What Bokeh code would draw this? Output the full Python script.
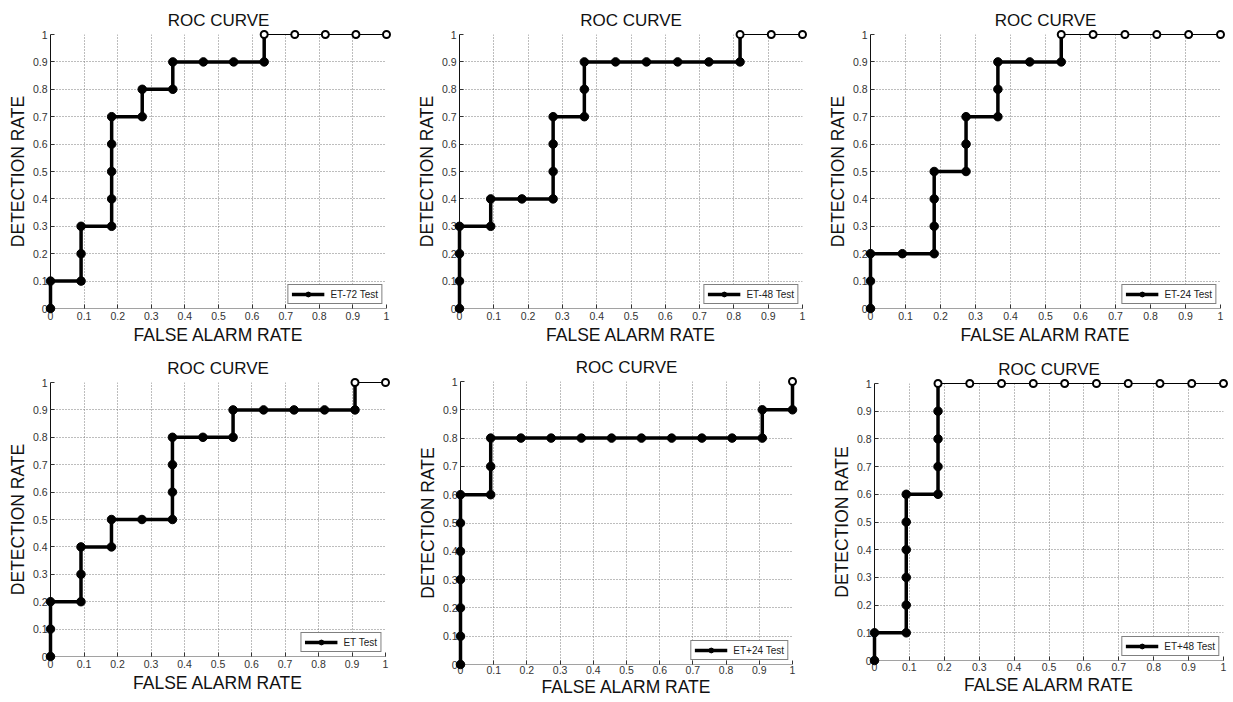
from bokeh.plotting import figure
from bokeh.layouts import column, row
from bokeh.models import FixedTicker, CustomJSTickFormatter
from bokeh.embed import file_html
from bokeh.resources import INLINE

TITLE = "ROC CURVE"
X_LABEL = "FALSE ALARM RATE"
Y_LABEL = "DETECTION RATE"
TICKS = [0, 0.1, 0.2, 0.3, 0.4, 0.5, 0.6, 0.7, 0.8, 0.9, 1]

# False alarm rate (x) and detection rate (y) for each test
far_et72 = [0, 0, 0.091, 0.091, 0.091, 0.182, 0.182, 0.182, 0.182, 0.182, 0.273,
            0.273, 0.364, 0.364, 0.455, 0.545, 0.636, 0.636, 0.727, 0.818, 0.909, 1]
det_et72 = [0, 0.1, 0.1, 0.2, 0.3, 0.3, 0.4, 0.5, 0.6, 0.7, 0.7,
            0.8, 0.8, 0.9, 0.9, 0.9, 0.9, 1, 1, 1, 1, 1]

far_et48 = [0, 0, 0, 0, 0.091, 0.091, 0.182, 0.273, 0.273, 0.273, 0.273,
            0.364, 0.364, 0.364, 0.455, 0.545, 0.636, 0.727, 0.818, 0.818, 0.909, 1]
det_et48 = [0, 0.1, 0.2, 0.3, 0.3, 0.4, 0.4, 0.4, 0.5, 0.6, 0.7,
            0.7, 0.8, 0.9, 0.9, 0.9, 0.9, 0.9, 0.9, 1, 1, 1]

far_et24 = [0, 0, 0, 0.091, 0.182, 0.182, 0.182, 0.182, 0.273, 0.273, 0.273,
            0.364, 0.364, 0.364, 0.455, 0.545, 0.545, 0.636, 0.727, 0.818, 0.909, 1]
det_et24 = [0, 0.1, 0.2, 0.2, 0.2, 0.3, 0.4, 0.5, 0.5, 0.6, 0.7,
            0.7, 0.8, 0.9, 0.9, 0.9, 1, 1, 1, 1, 1, 1]

far_et = [0, 0, 0, 0.091, 0.091, 0.091, 0.182, 0.182, 0.273, 0.364, 0.364,
          0.364, 0.364, 0.455, 0.545, 0.545, 0.636, 0.727, 0.818, 0.909, 0.909, 1]
det_et = [0, 0.1, 0.2, 0.2, 0.3, 0.4, 0.4, 0.5, 0.5, 0.5, 0.6,
          0.7, 0.8, 0.8, 0.8, 0.9, 0.9, 0.9, 0.9, 0.9, 1, 1]

far_etp24 = [0, 0, 0, 0, 0, 0, 0, 0.091, 0.091, 0.091, 0.182,
             0.273, 0.364, 0.455, 0.545, 0.636, 0.727, 0.818, 0.909, 0.909, 1, 1]
det_etp24 = [0, 0.1, 0.2, 0.3, 0.4, 0.5, 0.6, 0.6, 0.7, 0.8, 0.8,
             0.8, 0.8, 0.8, 0.8, 0.8, 0.8, 0.8, 0.8, 0.9, 0.9, 1]

far_etp48 = [0, 0, 0.091, 0.091, 0.091, 0.091, 0.091, 0.091, 0.182, 0.182, 0.182,
             0.182, 0.182, 0.273, 0.364, 0.455, 0.545, 0.636, 0.727, 0.818, 0.909, 1]
det_etp48 = [0, 0.1, 0.1, 0.2, 0.3, 0.4, 0.5, 0.6, 0.6, 0.7, 0.8,
             0.9, 1, 1, 1, 1, 1, 1, 1, 1, 1, 1]

SERIES = [
    ("ET-72 Test", far_et72, det_et72),
    ("ET-48 Test", far_et48, det_et48),
    ("ET-24 Test", far_et24, det_et24),
    ("ET Test", far_et, det_et),
    ("ET+24 Test", far_etp24, det_etp24),
    ("ET+48 Test", far_etp48, det_etp48),
]

# layout: (width, height, border_left, border_right, border_top, border_bottom,
#          x tick-label standoff, x axis-label standoff)
LAYOUT = [
    (410, 351, 50, 24, 34, 43, 3, 2),
    (410, 351, 49, 18, 34, 43, 3, 2),
    (412, 351, 50, 12, 34, 43, 3, 2),
    (410, 350, 50, 25, 31, 45, 3, 2),
    (410, 350, 50, 28, 29, 37, 1, 0),
    (412, 350, 54, 9, 32, 41, 2, 1),
]

FONT = "Liberation Sans"


def make_plot(name, xs, ys, lay):
    w, h, bl, br, bt, bb, xls, xas = lay
    p = figure(width=w, height=h, x_range=(0, 1), y_range=(0, 1),
               output_backend="svg", toolbar_location=None,
               min_border_left=bl, min_border_right=br,
               min_border_top=bt, min_border_bottom=bb)
    p.title.text = TITLE
    p.title.align = "center"
    p.title.text_font = FONT
    p.title.text_font_size = "17px"
    p.title.text_font_style = "normal"
    p.title.text_color = "#111111"
    p.title.standoff = 9
    p.outline_line_color = None
    p.background_fill_color = "white"
    p.border_fill_color = "white"

    fmt = CustomJSTickFormatter(code="return String(Math.round(tick*10)/10)")
    for ax in (p.xaxis[0], p.yaxis[0]):
        ax.ticker = FixedTicker(ticks=TICKS)
        ax.formatter = fmt
        ax.major_tick_in = 4
        ax.major_tick_out = 0
        ax.minor_tick_line_color = None
        ax.major_tick_line_color = "#333333"
        ax.major_label_text_font = FONT
        ax.major_label_text_font_size = "10.5px"
        ax.major_label_text_color = "#333333"
        ax.major_label_standoff = 3
        ax.axis_label_text_font = FONT
        ax.axis_label_text_font_size = "17.5px"
        ax.axis_label_text_font_style = "normal"
        ax.axis_label_text_color = "#111111"
        ax.axis_label_standoff = 2
    p.xaxis.major_label_standoff = xls
    p.xaxis.axis_label_standoff = xas
    p.xaxis.axis_label = X_LABEL
    p.yaxis.axis_label = Y_LABEL
    p.yaxis.axis_line_color = "#111111"
    p.xaxis.axis_line_color = "#444444"
    p.xaxis.axis_line_dash = "1 1"

    for g in (p.xgrid[0], p.ygrid[0]):
        g.grid_line_color = "#7a7a7a"
        g.grid_line_dash = "1 2"
        g.grid_line_width = 1

    # split the curve: below the top edge drawn thick with filled markers,
    # along the top edge drawn thin with open markers
    first_top = next((i for i, v in enumerate(ys) if v >= 1), len(ys) - 1)
    main_x, main_y = xs[:first_top + 1], ys[:first_top + 1]
    top_x, top_y = xs[first_top:], ys[first_top:]

    rs = []
    rs.append(p.line(main_x, main_y, line_color="black", line_width=3.5, legend_label=name))
    if len(top_x) > 1:
        rs.append(p.line(top_x, top_y, line_color="black", line_width=1))
    rs.append(p.scatter(main_x[:-1], main_y[:-1], size=8.5, marker="circle",
                        fill_color="black", line_color="black", legend_label=name))
    rs.append(p.scatter(top_x, top_y, size=7, marker="circle", fill_color="white",
                        line_color="black", line_width=2))
    for r in rs:
        r.level = "overlay"

    lg = p.legend[0]
    lg.location = "bottom_right"
    lg.margin = 4
    lg.padding = 3
    lg.glyph_width = 33
    lg.glyph_height = 12
    lg.label_height = 12
    lg.label_standoff = 6
    lg.label_text_font = FONT
    lg.label_text_font_size = "10px"
    lg.label_text_color = "#222222"
    lg.border_line_color = "black"
    lg.border_line_width = 1
    lg.background_fill_color = "white"
    lg.background_fill_alpha = 1
    return p


plots = [make_plot(n, x, y, lay) for (n, x, y), lay in zip(SERIES, LAYOUT)]
# wrap each plot so that the frames of neighbouring plots are placed independently
cells = [column(p) for p in plots]
layout = column(row(*cells[:3]), row(*cells[3:]))

open("out.html", "w").write(file_html(layout, INLINE))
